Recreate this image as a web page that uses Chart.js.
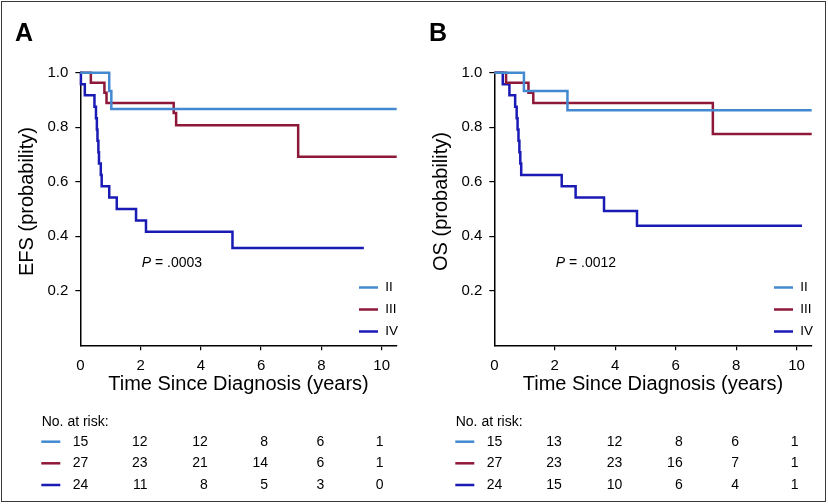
<!DOCTYPE html>
<html><head><meta charset="utf-8">
<script src="https://cdn.jsdelivr.net/npm/chart.js@4.4.1/dist/chart.umd.min.js"></script>
<style>
html,body{margin:0;padding:0;background:#fff;}
#wrap{position:relative;width:828px;height:504px;overflow:hidden;background:#fff;}
.pane{position:absolute;top:0;width:414px;height:504px;}
#frame{position:absolute;left:1px;top:1px;width:823px;height:499px;border:1px solid #3a3a3a;pointer-events:none;}
</style></head><body>
<div id="wrap">
<div class="pane" style="left:0"><canvas id="cA" width="414" height="504"></canvas></div>
<div class="pane" style="left:414px"><canvas id="cB" width="414" height="504"></canvas></div>
<div id="frame"></div>
</div>
<script>
// ---- data ----
const groups = ['II', 'III', 'IV'];
const riskTimes = [0, 2, 4, 6, 8, 10];
const xTicksMax = 10.5;

// Panel A: EFS
const efsTimeII  = [0, 0.96, 1.03, 10.5];
const efsSurvII  = [1, 0.933, 0.867, 0.867];
const efsTimeIII = [0, 0.35, 0.80, 0.87, 3.10, 3.18, 7.23, 10.5];
const efsSurvIII = [1, 0.963, 0.926, 0.889, 0.852, 0.807, 0.692, 0.692];
const efsTimeIV  = [0, 0.02, 0.15, 0.47, 0.52, 0.55, 0.57, 0.60, 0.62, 0.68, 0.71, 0.96, 1.21, 1.85, 2.18, 5.05, 9.41];
const efsSurvIV  = [1, 0.958, 0.917, 0.875, 0.833, 0.792, 0.750, 0.708, 0.667, 0.625, 0.583, 0.542, 0.500, 0.458, 0.417, 0.357, 0.357];
const efsRiskII  = [15, 12, 12, 8, 6, 1];
const efsRiskIII = [27, 23, 21, 14, 6, 1];
const efsRiskIV  = [24, 11, 8, 5, 3, 0];

// Panel B: OS
const osTimeII  = [0, 0.98, 2.42, 10.5];
const osSurvII  = [1, 0.933, 0.862, 0.862];
const osTimeIII = [0, 0.39, 1.13, 1.29, 7.23, 10.5];
const osSurvIII = [1, 0.963, 0.926, 0.889, 0.775, 0.775];
const osTimeIV  = [0, 0.28, 0.50, 0.69, 0.74, 0.77, 0.80, 0.83, 0.86, 0.89, 2.23, 2.69, 3.63, 4.72, 10.18];
const osSurvIV  = [1, 0.958, 0.917, 0.875, 0.833, 0.792, 0.750, 0.708, 0.667, 0.625, 0.583, 0.542, 0.493, 0.439, 0.439];
const osRiskII  = [15, 13, 12, 8, 6, 1];
const osRiskIII = [27, 23, 23, 16, 7, 1];
const osRiskIV  = [24, 15, 10, 6, 4, 1];

// ---- style ----
const FONT = '"Liberation Sans", Arial, Helvetica, sans-serif';
const colors = ['#4389d0', '#8e1838', '#1a1ab4'];
const riskOffsets = [8, 7, 7, 7, 3, 2];

const extras = {
  id: 'extras',
  afterDraw(chart, args, o) {
    const ctx = chart.ctx, ca = chart.chartArea, xs = chart.scales.x;
    ctx.save();
    ctx.fillStyle = '#000';
    // panel letter
    ctx.font = 'bold 25px ' + FONT;
    ctx.textBaseline = 'middle'; ctx.textAlign = 'left';
    ctx.fillText(o.letter, 15, 34);
    // y title
    ctx.save();
    ctx.translate(27, 201.5); ctx.rotate(-Math.PI / 2);
    ctx.font = '20px ' + FONT; ctx.textAlign = 'center';
    ctx.fillText(o.yTitle, 0, 0);
    ctx.restore();
    // P value
    let px = ca.left + 61.5;
    ctx.font = 'italic 14px ' + FONT; ctx.textAlign = 'left';
    ctx.fillText('P', px, 263.5);
    px += ctx.measureText('P').width;
    ctx.font = '14px ' + FONT;
    ctx.fillText(' = ' + o.pValue, px, 263.5);
    // legend
    const legY = [287.5, 309.5, 331.5];
    ctx.font = '13.5px ' + FONT;
    groups.forEach((g, i) => {
      ctx.strokeStyle = colors[i]; ctx.lineWidth = 2.5;
      ctx.beginPath(); ctx.moveTo(ca.right - 37.7, legY[i]); ctx.lineTo(ca.right - 18.7, legY[i]); ctx.stroke();
      ctx.fillStyle = '#000';
      ctx.fillText(g, ca.right - 11.5, legY[i]);
    });
    // risk table
    ctx.font = '14px ' + FONT;
    ctx.textAlign = 'left';
    ctx.fillText('No. at risk:', ca.left - 38.6, 422.3);
    const rowY = [441.7, 463.3, 485];
    o.risk.forEach((row, i) => {
      ctx.strokeStyle = colors[i]; ctx.lineWidth = 2.5;
      ctx.beginPath(); ctx.moveTo(ca.left - 39, rowY[i]); ctx.lineTo(ca.left - 20, rowY[i]); ctx.stroke();
      ctx.textAlign = 'right'; ctx.fillStyle = '#000';
      row.forEach((n, j) => {
        ctx.fillText(String(n), xs.getPixelForValue(riskTimes[j]) + riskOffsets[j], rowY[i]);
      });
    });
    ctx.restore();
  }
};

function makeChart(id, series, opts) {
  return new Chart(document.getElementById(id), {
    type: 'line',
    data: {
      datasets: series.map((s, i) => ({
        label: groups[i],
        data: s[0].map((t, k) => ({ x: t, y: s[1][k] })),
        borderColor: colors[i],
        borderWidth: 2.5,
        stepped: 'before',
        pointRadius: 0,
        fill: false,
        clip: false
      }))
    },
    options: {
      responsive: false, animation: false, devicePixelRatio: 1,
      layout: { padding: { top: 72.7, left: 0.3, right: opts.padRight, bottom: 0 } },
      plugins: { legend: { display: false }, tooltip: { enabled: false }, extras: opts },
      scales: {
        x: {
          type: 'linear', min: 0, max: xTicksMax,
          afterFit: s => { s.height = 158.7; },
          ticks: { stepSize: 2, includeBounds: false, autoSkip: false, maxRotation: 0,
                   font: { family: FONT, size: 15 }, color: '#000', padding: 7 },
          grid: { drawOnChartArea: false, drawTicks: true, tickLength: 5, lineWidth: 1.2,
                  color: c => (c.tick && c.tick.value === 0) ? 'rgba(0,0,0,0)' : '#000' },
          border: { display: true, color: '#000', width: 1.5 },
          title: { display: true, text: 'Time Since Diagnosis (years)', font: { family: FONT, size: 20 },
                   color: '#000', padding: { top: 0, bottom: 108 } }
        },
        y: {
          type: 'linear', min: 0, max: 1,
          afterFit: s => { s.width = 80; },
          ticks: { stepSize: 0.2, font: { family: FONT, size: 15 }, color: '#000', padding: 7,
                   callback: v => (Math.abs(v) < 1e-9 ? '' : Number(v).toFixed(1)) },
          grid: { drawOnChartArea: false, drawTicks: true, tickLength: 5, lineWidth: 1.2,
                  color: c => (c.tick && Math.abs(c.tick.value) < 1e-9) ? 'rgba(0,0,0,0)' : '#000' },
          border: { display: true, color: '#000', width: 1.5 }
        }
      }
    },
    plugins: [extras]
  });
}

makeChart('cA',
  [[efsTimeII, efsSurvII], [efsTimeIII, efsSurvIII], [efsTimeIV, efsSurvIV]],
  { letter: 'A', yTitle: 'EFS (probability)', pValue: '.0003', padRight: 17.3,
    risk: [efsRiskII, efsRiskIII, efsRiskIV] });
makeChart('cB',
  [[osTimeII, osSurvII], [osTimeIII, osSurvIII], [osTimeIV, osSurvIV]],
  { letter: 'B', yTitle: 'OS (probability)', pValue: '.0012', padRight: 16.3,
    risk: [osRiskII, osRiskIII, osRiskIV] });
</script>
</body></html>
